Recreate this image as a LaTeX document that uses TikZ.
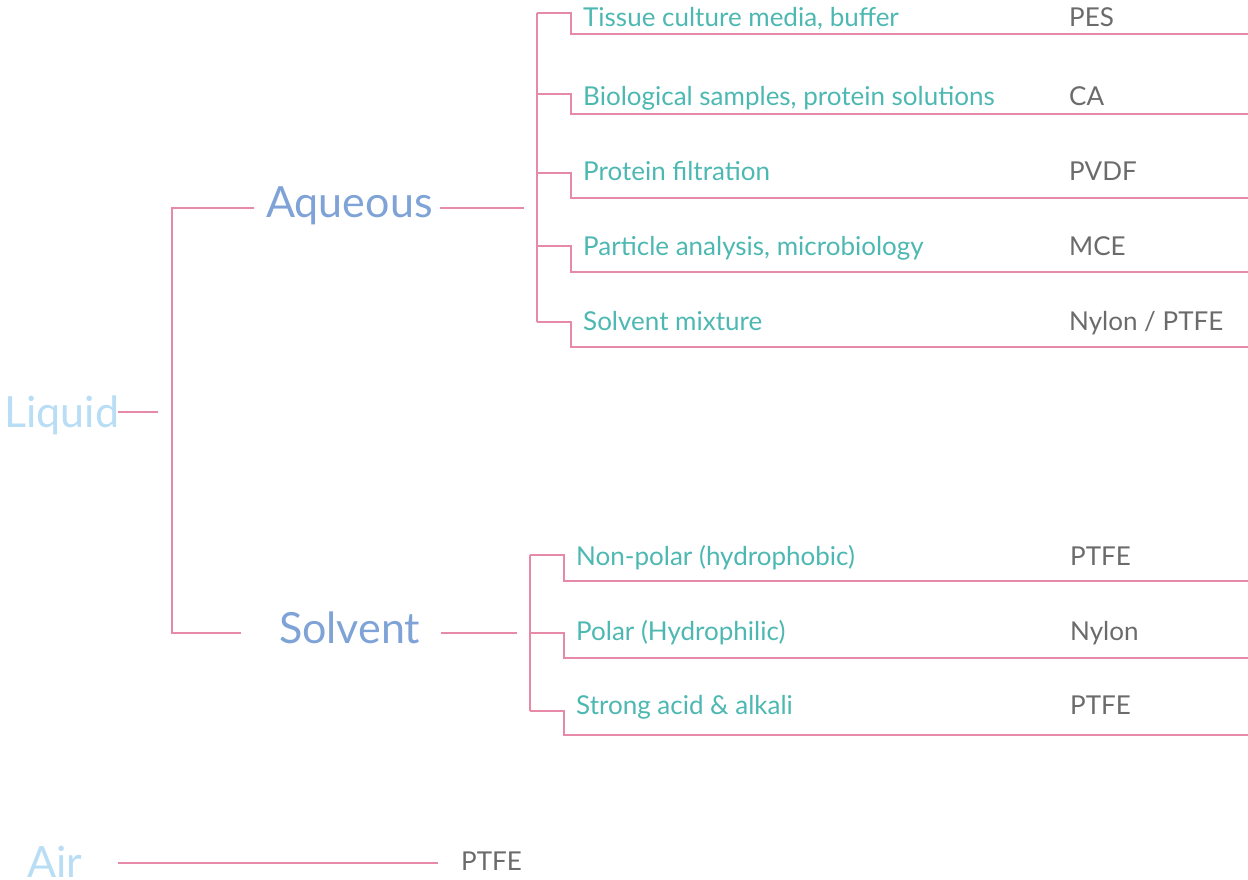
\documentclass[tikz,border=0pt]{standalone}
\usepackage{fontspec}
\setmainfont{Lato}
\definecolor{pinkline}{HTML}{E68AA8}
\definecolor{teal}{HTML}{4DB8B2}
\definecolor{midblue}{HTML}{7FA3D6}
\definecolor{lightblue}{HTML}{B8DDF5}
\definecolor{matgray}{HTML}{6B6B6B}
\begin{document}
\begin{tikzpicture}[x=1pt,y=-1pt,
  conn/.style={draw=pinkline,line width=1.1pt},
  leaf/.style={anchor=base west,inner sep=0pt,text=teal,font=\fontsize{26}{30}\selectfont},
  mat/.style={anchor=base west,inner sep=0pt,text=matgray,font=\fontsize{26}{30}\selectfont},
  cat/.style={anchor=base west,inner sep=0pt,text=midblue,font=\fontsize{43}{50}\selectfont},
  root/.style={anchor=base west,inner sep=0pt,text=lightblue,font=\fontsize{43}{50}\selectfont}]
\useasboundingbox (0,0) rectangle (1248,879);
% roots and categories
\node[root] (liquid) at (4,427) {Liquid};
\node[root] (air) at (27,877) {Air};
\node[cat] (aqueous) at (266,217) {Aqueous};
\node[cat] (solvent) at (279,643) {Solvent};
\node[mat] (airmat) at (461,870) {PTFE};
% liquid connectors
\coordinate (lq1) at (118,412);
\coordinate (lq2) at (158,412);
\coordinate (vt) at (172,208);
\coordinate (vb) at (172,633);
\coordinate (aqL) at (254,208);
\coordinate (aqR1) at (440,208);
\coordinate (aqR2) at (524,208);
\coordinate (soL) at (241,633);
\coordinate (soR1) at (441,633);
\coordinate (soR2) at (517,633);
\draw[conn] (lq1) -- (lq2);
\draw[conn] (aqL) -- (vt) -- (vb) -- (soL);
\draw[conn] (aqR1) -- (aqR2);
\draw[conn] (soR1) -- (soR2);
% air
\coordinate (air1) at (118,863);
\coordinate (air2) at (438,863);
\draw[conn] (air1) -- (air2);
% aqueous leaves
\coordinate (av1) at (537,13);
\coordinate (av2) at (537,322);
\draw[conn] (av1) -- (av2);
\foreach \n/\e/\b/\u/\t/\m in {
  a1/13/26/34/{Tissue culture media, buffer}/PES,
  a2/94/105/114/{Biological samples, protein solutions}/CA,
  a3/173/180/198/{Protein filtration}/PVDF,
  a4/246/255/272/{Particle analysis, microbiology}/MCE,
  a5/322/330/347/{Solvent mixture}/{Nylon / PTFE}}{
  \node[leaf] (\n) at (583,\b) {\t};
  \node[mat] (\n m) at (1069,\b) {\m};
  \draw[conn] (537,\e) -- (571,\e) -- (571,\u) -- (1248,\u);
}
% solvent leaves
\coordinate (sv1) at (530,555);
\coordinate (sv2) at (530,711);
\draw[conn] (sv1) -- (sv2);
\foreach \n/\e/\b/\u/\t/\m in {
  s1/555/565/581/{Non-polar (hydrophobic)}/PTFE,
  s2/633/640/658/{Polar (Hydrophilic)}/Nylon,
  s3/711/714/735/{Strong acid \& alkali}/PTFE}{
  \node[leaf] (\n) at (576,\b) {\t};
  \node[mat] (\n m) at (1070,\b) {\m};
  \draw[conn] (530,\e) -- (564,\e) -- (564,\u) -- (1248,\u);
}
\end{tikzpicture}
\end{document}
